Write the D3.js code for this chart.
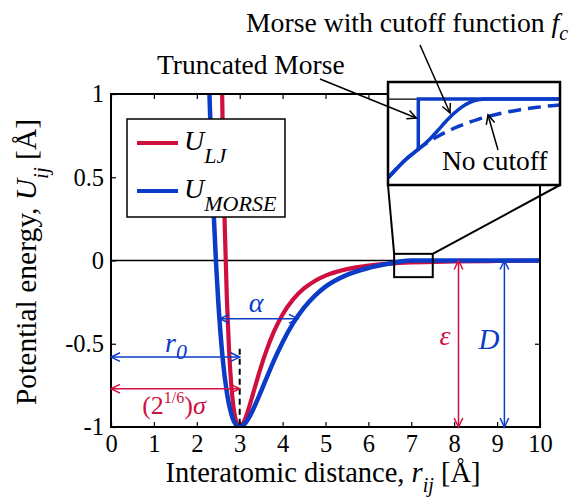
<!DOCTYPE html>
<html><head><meta charset="utf-8">
<script src="https://cdn.jsdelivr.net/npm/d3@7"></script>
<style>
body{margin:0;background:#fff}
svg{display:block;font-family:"Liberation Serif","Times New Roman",Tinos,Times,"DejaVu Serif",serif}
svg text{font-family:"Liberation Serif","Times New Roman",Tinos,Times,"DejaVu Serif",serif}
</style>
</head><body>
<svg id="chart" width="576" height="499"></svg>
<script>
// Axis ticks
const xTicks = [0, 1, 2, 3, 4, 5, 6, 7, 8, 9, 10];
const yTicks = [-1, -0.5, 0, 0.5, 1];
const yTickLabels = ["-1", "-0.5", "0", "0.5", "1"];

// Lennard-Jones potential U_LJ (epsilon = 1, minimum at 2^(1/6) sigma = 3)
const ljR = [2.55, 2.6, 2.65, 2.7, 2.75, 2.8, 2.85, 2.9, 2.95, 3.0, 3.1, 3.2, 3.3, 3.4, 3.5, 3.6, 3.8, 4.0, 4.25, 4.5, 4.75, 5.0, 5.5, 6.0, 6.5, 7.0, 8.0, 9.0, 10.0];
const ljU = [1.727, 0.849, 0.221, -0.223, -0.530, -0.737, -0.870, -0.949, -0.989, -1.0, -0.968, -0.897, -0.810, -0.721, -0.636, -0.558, -0.426, -0.324, -0.232, -0.168, -0.123, -0.091, -0.052, -0.031, -0.019, -0.012, -0.006, -0.003, -0.001];

// Morse potential U_MORSE with cutoff (D = 1, r0 = 3)
const morseR = [2.25, 2.3, 2.35, 2.4, 2.45, 2.5, 2.6, 2.7, 2.8, 2.9, 3.0, 3.1, 3.2, 3.3, 3.4, 3.6, 3.8, 4.0, 4.25, 4.5, 4.75, 5.0, 5.5, 6.0, 6.5, 6.75, 7.0, 8.0, 9.0, 10.0];
const morseU = [1.414, 0.957, 0.571, 0.248, -0.023, -0.246, -0.579, -0.793, -0.919, -0.982, -1.0, -0.986, -0.951, -0.902, -0.845, -0.722, -0.600, -0.491, -0.375, -0.283, -0.212, -0.157, -0.086, -0.045, -0.018, -0.006, 0, 0, 0, 0];

// Magnified tail of the Morse potential
const insetR = [5.4, 5.6, 5.8, 5.9, 6.0, 6.1, 6.2, 6.3, 6.4, 6.5, 6.6, 6.8, 7.0, 7.2, 7.4, 7.5];
const noCutoffU = [-0.0971, -0.0760, -0.0595, -0.0526, -0.0465, -0.0411, -0.0363, -0.0321, -0.0283, -0.0250, -0.0221, -0.0172, -0.0134, -0.0105, -0.0082, -0.0072];
const cutoffU = [-0.0971, -0.0760, -0.0595, -0.0506, -0.0397, -0.0284, -0.0182, -0.0099, -0.0041, -0.0010, 0, 0, 0, 0, 0, 0];
const truncR = [5.4, 5.6, 5.77, 5.77, 7.5];
const truncU = [-0.0971, -0.0760, -0.0617, 0, 0];

// Annotated parameters
const epsilon = 1, depthD = 1, r0 = 3, rMinLJ = 3, alphaSpan = [2.54, 4.36], alphaLevel = -0.35;
const r0Level = -0.58, sigmaLevel = -0.77, epsR = 8.1, dR = 9.17, dashTop = -0.53;
const zoomX = [6.6, 7.5], zoomY = [-0.1, 0.04];
const insetXDomain = [5.4, 7.5], insetYDomain = [-0.106, 0.021];

const RED = "#CF0F3F", BLUE = "#0A3CC8";
const SERIF = '"Liberation Serif","Times New Roman",Tinos,Times,"DejaVu Serif",serif';

const svg = d3.select("#chart");
const x = d3.scaleLinear().domain([0, 10]).range([111, 540]);
const y = d3.scaleLinear().domain([-1, 1]).range([427, 94]);
const defs = svg.append("defs");

defs.append("clipPath").attr("id", "plotClip")
  .append("rect").attr("x", x(0)).attr("y", y(1)).attr("width", x(10) - x(0)).attr("height", y(-1) - y(1));

// Axes with inward ticks on all four sides
const tickLen = 5;
const styleAxis = g => {
  g.attr("font-family", SERIF);
  g.select(".domain").remove();
  g.selectAll("line").attr("stroke", "#000").attr("stroke-width", 1.2);
  g.selectAll("text").attr("font-size", 24.5).attr("fill", "#000");
};
svg.append("g").attr("transform", `translate(0,${y(-1)})`)
  .call(d3.axisBottom(x).tickValues(xTicks).tickSize(-tickLen).tickPadding(8).tickFormat(d3.format("d")))
  .call(styleAxis)
  .call(g => g.selectAll("text").attr("dy", "0.71em"));
svg.append("g").attr("transform", `translate(0,${y(1)})`)
  .call(d3.axisTop(x).tickValues(xTicks).tickSize(-tickLen).tickFormat(""))
  .call(styleAxis);
svg.append("g").attr("transform", `translate(${x(0)},0)`)
  .call(d3.axisLeft(y).tickValues(yTicks).tickSize(-tickLen).tickPadding(7).tickFormat((d, i) => yTickLabels[i]))
  .call(styleAxis);
svg.append("g").attr("transform", `translate(${x(10)},0)`)
  .call(d3.axisRight(y).tickValues(yTicks).tickSize(-tickLen).tickFormat(""))
  .call(styleAxis);

// Zero line
svg.append("line").attr("x1", x(0)).attr("x2", x(10)).attr("y1", y(0)).attr("y2", y(0))
  .attr("stroke", "#000").attr("stroke-width", 1.5);

// Potential curves
const line = d3.line().x(d => x(d[0])).y(d => y(d[1])).curve(d3.curveMonotoneX);
const curves = svg.append("g").attr("clip-path", "url(#plotClip)");
curves.append("path").datum(d3.zip(ljR, ljU)).attr("d", line)
  .attr("fill", "none").attr("stroke", RED).attr("stroke-width", 4.2);
curves.append("path").datum(d3.zip(morseR, morseU)).attr("d", line)
  .attr("fill", "none").attr("stroke", BLUE).attr("stroke-width", 4.5);

// Plot frame
svg.append("rect").attr("x", x(0)).attr("y", y(1)).attr("width", x(10) - x(0)).attr("height", y(-1) - y(1))
  .attr("fill", "none").attr("stroke", "#000").attr("stroke-width", 2);

// Arrow helper: open V heads
function arrow(x1, y1, x2, y2, color, both, w) {
  const g = svg.append("g").attr("stroke", color).attr("stroke-width", w || 1.5).attr("fill", "none");
  g.append("line").attr("x1", x1).attr("y1", y1).attr("x2", x2).attr("y2", y2);
  const head = (tx, ty, fx, fy) => {
    const a = Math.atan2(ty - fy, tx - fx), L = 10, phi = 0.45;
    g.append("path").attr("d",
      `M${tx - L * Math.cos(a - phi)},${ty - L * Math.sin(a - phi)}L${tx},${ty}L${tx - L * Math.cos(a + phi)},${ty - L * Math.sin(a + phi)}`);
  };
  head(x2, y2, x1, y1);
  if (both) head(x1, y1, x2, y2);
}

// Text helper
function label(px, py, size, opts) {
  opts = opts || {};
  return svg.append("text").attr("x", px).attr("y", py).attr("font-size", size)
    .attr("font-family", SERIF)
    .attr("text-anchor", opts.anchor || "start")
    .attr("font-style", opts.italic ? "italic" : "normal")
    .style("fill", opts.color || "#000");
}

// Dashed marker at the minimum
svg.append("line").attr("x1", x(rMinLJ)).attr("x2", x(rMinLJ)).attr("y1", y(dashTop)).attr("y2", y(-1))
  .attr("stroke", "#000").attr("stroke-width", 2).attr("stroke-dasharray", "6,4");

// Parameter arrows
arrow(x(0), y(r0Level), x(r0), y(r0Level), BLUE, true);
arrow(x(0), y(sigmaLevel), x(rMinLJ), y(sigmaLevel), RED, true);
arrow(x(alphaSpan[0]), y(alphaLevel), x(alphaSpan[1]), y(alphaLevel), BLUE, true);
arrow(x(epsR), y(0), x(epsR), y(-epsilon), RED, true);
arrow(x(dR), y(0), x(dR), y(-depthD), BLUE, true);

// Parameter labels
const r0Lab = label(176, 352, 28, {anchor: "middle", italic: true, color: BLUE});
r0Lab.append("tspan").text("r");
r0Lab.append("tspan").attr("font-size", 22).attr("dy", 7).text("0");

const sLab = label(174, 414, 26, {anchor: "middle", color: RED});
sLab.append("tspan").text("(2");
sLab.append("tspan").attr("font-size", 16).attr("dy", -11).text("1/6");
sLab.append("tspan").attr("dy", 11).text(")");
sLab.append("tspan").attr("font-style", "italic").text("σ");

label(256, 312, 28, {anchor: "middle", italic: true, color: BLUE}).text("α");
label(445, 345, 28, {anchor: "middle", italic: true, color: RED}).text("ε");
label(489, 349, 29, {anchor: "middle", italic: true, color: BLUE}).text("D");

// Legend
svg.append("rect").attr("x", 127).attr("y", 119).attr("width", 158).attr("height", 98)
  .attr("fill", "#fff").attr("stroke", "#000").attr("stroke-width", 1.5);
const legItems = [{c: RED, sub: "LJ", ly: 143}, {c: BLUE, sub: "MORSE", ly: 191}];
legItems.forEach(it => {
  svg.append("line").attr("x1", 137).attr("x2", 178).attr("y1", it.ly).attr("y2", it.ly)
    .attr("stroke", it.c).attr("stroke-width", 4);
  const t = label(184, it.ly + 7, 28, {italic: true});
  t.append("tspan").text("U");
  t.append("tspan").attr("font-size", 22).attr("dy", 13).text(it.sub);
});

// Zoom box and connectors
const zx0 = x(zoomX[0]), zx1 = x(zoomX[1]), zy0 = y(zoomY[1]), zy1 = y(zoomY[0]);
const ix0 = 388, ix1 = 560, iy0 = 82, iy1 = 185;
svg.append("line").attr("x1", zx0).attr("y1", zy0).attr("x2", ix0).attr("y2", iy1).attr("stroke", "#000").attr("stroke-width", 2);
svg.append("line").attr("x1", zx1).attr("y1", zy0).attr("x2", ix1).attr("y2", iy1).attr("stroke", "#000").attr("stroke-width", 2);
svg.append("rect").attr("x", zx0).attr("y", zy0).attr("width", zx1 - zx0).attr("height", zy1 - zy0)
  .attr("fill", "none").attr("stroke", "#000").attr("stroke-width", 2);

// Inset: magnified tail
const ix = d3.scaleLinear().domain(insetXDomain).range([ix0, ix1]);
const iy = d3.scaleLinear().domain(insetYDomain).range([iy1, iy0]);
defs.append("clipPath").attr("id", "insetClip")
  .append("rect").attr("x", ix0).attr("y", iy0).attr("width", ix1 - ix0).attr("height", iy1 - iy0);
svg.append("rect").attr("x", ix0).attr("y", iy0).attr("width", ix1 - ix0).attr("height", iy1 - iy0).attr("fill", "#fff");
const ig = svg.append("g").attr("clip-path", "url(#insetClip)");
ig.append("line").attr("x1", ix0).attr("x2", ix1).attr("y1", iy(0)).attr("y2", iy(0)).attr("stroke", "#000").attr("stroke-width", 1.2);
const iline = d3.line().x(d => ix(d[0])).y(d => iy(d[1])).curve(d3.curveMonotoneX);
ig.append("path").datum(d3.zip(insetR, noCutoffU)).attr("d", iline)
  .attr("fill", "none").attr("stroke", BLUE).attr("stroke-width", 3.5).attr("stroke-dasharray", "13,7");
ig.append("path").datum(d3.zip(truncR, truncU)).attr("d", d3.line().x(d => ix(d[0])).y(d => iy(d[1])))
  .attr("fill", "none").attr("stroke", BLUE).attr("stroke-width", 3.5);
ig.append("path").datum(d3.zip(insetR, cutoffU)).attr("d", iline)
  .attr("fill", "none").attr("stroke", BLUE).attr("stroke-width", 3.5);
svg.append("rect").attr("x", ix0).attr("y", iy0).attr("width", ix1 - ix0).attr("height", iy1 - iy0)
  .attr("fill", "none").attr("stroke", "#000").attr("stroke-width", 2.5);

// Callout texts
label(157, 74, 27.5).text("Truncated Morse");
const mt = label(246, 32, 27.7);
mt.append("tspan").text("Morse with cutoff function ");
mt.append("tspan").attr("font-style", "italic").text("f");
mt.append("tspan").attr("font-style", "italic").attr("font-size", 20).attr("dy", 8).text("c");
label(442, 170, 27.5).text("No cutoff");

arrow(320, 79, ix(5.77) - 2, 118, "#000", false, 1.5);
arrow(420, 45, 450, 113, "#000", false, 1.5);
arrow(498, 150, 488, 115, "#000", false, 1.5);

// Axis titles
const xt = label(323, 482, 28.5, {anchor: "middle"});
xt.append("tspan").text("Interatomic distance, ");
xt.append("tspan").attr("font-style", "italic").text("r");
xt.append("tspan").attr("font-style", "italic").attr("font-size", 20).attr("dy", 10).text("ij");
xt.append("tspan").attr("dy", -10).text(" [Å]");

const yt = label(0, 0, 29.5, {anchor: "middle"}).attr("transform", "translate(36,262) rotate(-90)");
yt.append("tspan").text("Potential energy, ");
yt.append("tspan").attr("font-style", "italic").text("U");
yt.append("tspan").attr("font-style", "italic").attr("font-size", 21).attr("dy", 12).text("ij");
yt.append("tspan").attr("dy", -12).text(" [Å]");
</script>
</body></html>
